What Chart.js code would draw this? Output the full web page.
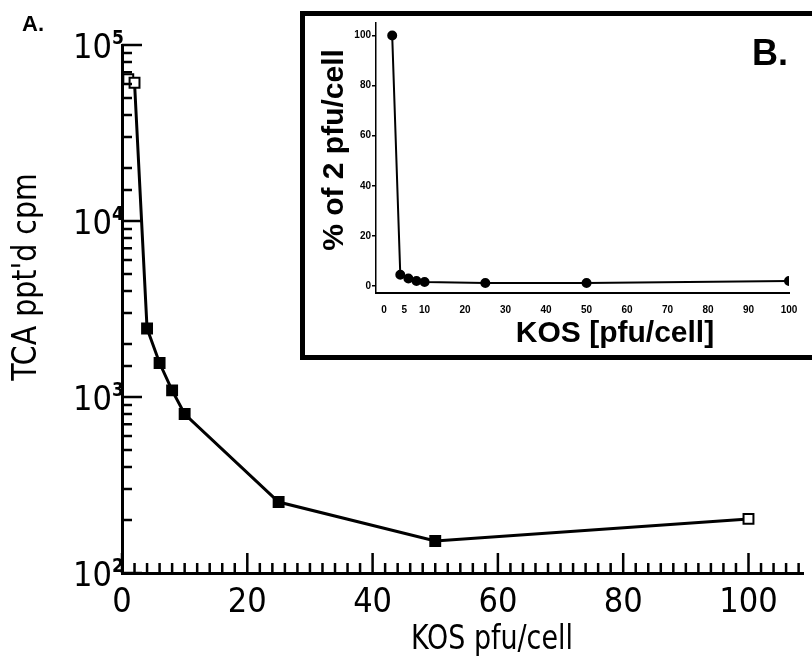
<!DOCTYPE html>
<html lang="en">
<head>
<meta charset="UTF-8">
<title>KOS pfu/cell</title>
<script src="https://cdn.jsdelivr.net/npm/chart.js"></script>
<style>
  body { margin: 0; background: #fff; overflow: hidden; }
  .wrap { position: relative; width: 812px; height: 656px; }
  #mainChart { position: absolute; left: 0; top: 0; }
  .inset { position: absolute; left: 300px; top: 11px; width: 540px; height: 349px; box-sizing: border-box;
           border: 5px solid #000; background: #fff; }
</style>
</head>
<body>
<div class="wrap">
  <canvas id="mainChart" width="812" height="656"></canvas>
  <div class="inset"><canvas id="insetChart" width="530" height="339"></canvas></div>
</div>
<script>
// panel A: TCA precipitable cpm vs KOS multiplicity
const mainKos = [1, 2, 4, 6, 8, 10, 25, 50, 100];
const mainCpm = [64000, 61000, 2450, 1560, 1090, 800, 253, 152, 203];

// panel B: % of the 2 pfu/cell value
const insetKos = [2, 4, 6, 8, 10, 25, 50, 100];
const insetPct = [100, 4.5, 3, 2, 1.6, 1.2, 1.2, 2];
const insetXTicks = [0, 5, 10, 20, 30, 40, 50, 60, 70, 80, 90, 100];
const insetYTicks = [0, 20, 40, 60, 80, 100];

const narrow = "'Liberation Sans Narrow', 'DejaVu Sans Condensed', sans-serif";
const bold = "'Liberation Sans', Arial, sans-serif";

const mainDecor = {
  id: 'mainDecor',
  afterDraw(chart) {
    const { ctx, chartArea: a, scales: { x, y } } = chart;
    ctx.save();
    ctx.strokeStyle = '#000';
    ctx.lineWidth = 2.5;
    ctx.beginPath();
    x.ticks.forEach(t => {
      const px = x.getPixelForValue(t.value);
      const len = t.value % 20 === 0 ? 20 : 10;
      ctx.moveTo(px, a.bottom);
      ctx.lineTo(px, a.bottom - len);
    });
    y.ticks.forEach(t => {
      const py = y.getPixelForValue(t.value);
      const e = Math.log10(t.value);
      const len = Math.abs(e - Math.round(e)) < 1e-9 ? 20 : 10;
      ctx.moveTo(a.left, py);
      ctx.lineTo(a.left + len, py);
    });
    ctx.stroke();

    // decade labels 10^n
    ctx.fillStyle = '#000';
    y.ticks.forEach(t => {
      const e = Math.log10(t.value);
      if (Math.abs(e - Math.round(e)) > 1e-9) return;
      const py = y.getPixelForValue(t.value);
      ctx.font = '34px ' + narrow;
      ctx.textAlign = 'right';
      ctx.textBaseline = 'middle';
      ctx.fillText('10', 112, py + 4);
      ctx.font = 'bold 19px ' + narrow;
      ctx.textAlign = 'left';
      ctx.fillText(String(Math.round(e)), 112, py - 6);
    });

    // axis titles
    ctx.font = '34px ' + narrow;
    ctx.textAlign = 'center';
    ctx.textBaseline = 'middle';
    ctx.save();
    ctx.translate(27, 277);
    ctx.rotate(-Math.PI / 2);
    ctx.scale(0.93, 1);
    ctx.fillText("TCA ppt'd cpm", 0, 0);
    ctx.restore();
    ctx.save();
    ctx.translate(492, 640);
    ctx.scale(0.88, 1);
    ctx.fillText('KOS pfu/cell', 0, 0);
    ctx.restore();

    ctx.font = 'bold 22px ' + bold;
    ctx.textAlign = 'left';
    ctx.textBaseline = 'alphabetic';
    ctx.fillText('A.', 22, 31);
    ctx.restore();
  }
};

new Chart('mainChart', {
  type: 'scatter',
  data: {
    datasets: [{
      data: mainKos.map((k, i) => ({ x: k, y: mainCpm[i] })),
      showLine: true,
      borderColor: '#000',
      borderWidth: 3,
      pointStyle: 'rect',
      pointRadius: 7,
      pointBorderWidth: 2,
      pointBorderColor: '#000',
      pointBackgroundColor: mainKos.map((k, i) => (i < 2 || i === mainKos.length - 1) ? '#fff' : '#000')
    }]
  },
  options: {
    responsive: false,
    animation: false,
    layout: { padding: { top: 45, right: 0, left: 0, bottom: 0 } },
    plugins: { legend: { display: false }, tooltip: { enabled: false } },
    scales: {
      x: {
        type: 'linear', min: 0, max: 108.7,
        afterFit: s => { s.height = 83; },
        grid: { display: false },
        border: { display: true, color: '#000', width: 3 },
        ticks: {
          stepSize: 2, autoSkip: false, includeBounds: false, maxRotation: 0, padding: 2,
          color: '#000', font: { family: narrow, size: 34 },
          callback: v => (v % 20 === 0 ? String(v) : '')
        }
      },
      y: {
        type: 'logarithmic', min: 100, max: 100000,
        afterFit: s => { s.width = 122; },
        grid: { display: false },
        border: { display: true, color: '#000', width: 3 },
        ticks: { display: false }
      }
    }
  },
  plugins: [mainDecor]
});

const insetDecor = {
  id: 'insetDecor',
  afterDraw(chart) {
    const { ctx } = chart;
    ctx.save();
    ctx.fillStyle = '#000';
    ctx.textAlign = 'center';
    ctx.textBaseline = 'middle';
    ctx.font = 'bold 30px ' + bold;
    ctx.save();
    ctx.translate(30, 134);
    ctx.rotate(-Math.PI / 2);
    ctx.fillText('% of 2 pfu/cell', 0, 0);
    ctx.restore();
    ctx.fillText('KOS [pfu/cell]', 310, 318);
    ctx.font = 'bold 36px ' + bold;
    ctx.textAlign = 'left';
    ctx.textBaseline = 'alphabetic';
    ctx.fillText('B.', 447, 49);
    ctx.restore();
  }
};

new Chart('insetChart', {
  type: 'scatter',
  data: {
    datasets: [{
      data: insetKos.map((k, i) => ({ x: k, y: insetPct[i] })),
      showLine: true,
      borderColor: '#000',
      borderWidth: 2,
      pointStyle: 'circle',
      pointRadius: 4,
      pointBackgroundColor: '#000',
      pointBorderColor: '#000'
    }]
  },
  options: {
    responsive: false,
    animation: false,
    layout: { padding: { top: 7, right: 46, left: 0, bottom: 0 } },
    plugins: { legend: { display: false }, tooltip: { enabled: false } },
    scales: {
      x: {
        type: 'linear', min: -2, max: 100,
        afterFit: s => { s.height = 62; },
        afterBuildTicks: s => { s.ticks = insetXTicks.map(v => ({ value: v })); },
        grid: { display: false },
        border: { display: true, color: '#000', width: 2 },
        ticks: { autoSkip: false, maxRotation: 0, padding: 3, color: '#000', font: { family: bold, size: 10, weight: 'bold' } }
      },
      y: {
        type: 'linear', min: -2.8, max: 105,
        afterFit: s => { s.width = 71; },
        afterBuildTicks: s => { s.ticks = insetYTicks.map(v => ({ value: v })); },
        grid: { drawOnChartArea: false, tickLength: 4, color: '#000', lineWidth: 1.5 },
        border: { display: true, color: '#000', width: 1.5 },
        ticks: { padding: 1, color: '#000', font: { family: bold, size: 10, weight: 'bold' } }
      }
    }
  },
  plugins: [insetDecor]
});
</script>
</body>
</html>
